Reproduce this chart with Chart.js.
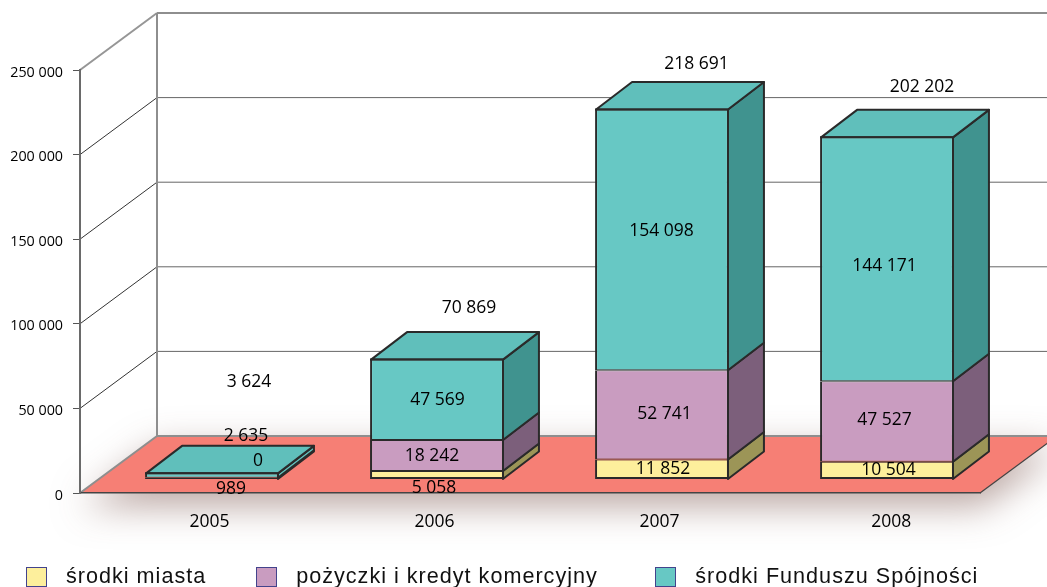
<!DOCTYPE html>
<html lang="pl">
<head>
<meta charset="utf-8">
<title>Wydatki</title>
<script src="https://cdn.jsdelivr.net/npm/chart.js@4"></script>
<style>
  html, body { margin: 0; background: #fff; width: 1047px; height: 587px; overflow: hidden; }
  #wykres { position: absolute; left: 0; top: 0; }
  #legenda { position: absolute; left: 26px; top: 567px; display: flex; gap: 50px;
    font: 21.6px "Liberation Sans", sans-serif; letter-spacing: 1px; color: #111; white-space: nowrap; }
  #legenda div { display: flex; align-items: flex-start; gap: 19.5px; line-height: 18px; }
  #legenda div:nth-child(3) { margin-left: 7.5px; }
  #legenda i { display: block; box-sizing: border-box; width: 20.5px; height: 20px; border: 1.5px solid #43438c; }
</style>
</head>
<body>
<canvas id="wykres" width="1047" height="587"></canvas>
<div id="legenda"></div>
<script>
const lata = ["2005", "2006", "2007", "2008"];
const srodkiMiasta = [989, 5058, 11852, 10504];
const pozyczki = [2635, 18242, 52741, 47527];
const funduszSpojnosci = [0, 47569, 154098, 144171];
const sumy = [3624, 70869, 218691, 202202];
const podzialkaY = [0, 50000, 100000, 150000, 200000, 250000];

// przesuniecie slupkow wzgledem przedniej krawedzi podlogi
const przesuniecieX = 19.5;
const przesuniecieY = -13.5;
// glebokosc slupka i calego wykresu
const glebokoscX = 36;
const glebokoscY = -27.5;
const scianaX = 77;
const scianaY = -57;

// korekty polozenia etykiet [dx, dy] wzgledem srodka segmentu
const korektyEtykiet = [
  [[19, 11], [-3, 13.5], [1, 0], [1.5, 0]],
  [[34, -40], [-5, 1], [2.5, -1], [-2.5, -2]],
  [[46, -12], [0.5, 0], [-0.5, -9], [-2.5, 6.5]],
];
const korektySum = [[37, -91], [32, -52], [34.5, -45.5], [35, -50]];

function formatuj(wartosc) {
  return String(wartosc).replace(/\B(?=(\d{3})+$)/g, " ");
}

const scianyBoczne = [
  ["#232323", "#9c9557", "#9c9557", "#9c9557"],
  ["#63c1bd", "#7c5f7b", "#7c5f7b", "#7c5f7b"],
  ["#63c1bd", "#40938f", "#40938f", "#40938f"],
];

const tloWykresu = {
  id: "tloWykresu",
  beforeDraw(chart) {
    const { ctx, chartArea, scales } = chart;
    const lewo = chartArea.left;
    const prawo = chartArea.right;
    const dol = chartArea.bottom;
    const koniec = chart.width;
    ctx.save();

    // podloga z cieniem
    const podloga = new Path2D();
    podloga.moveTo(lewo, dol);
    podloga.lineTo(prawo, dol);
    podloga.lineTo(prawo + scianaX, dol + scianaY);
    podloga.lineTo(lewo + scianaX, dol + scianaY);
    podloga.closePath();
    ctx.shadowColor = "rgba(120, 80, 72, 0.5)";
    ctx.shadowBlur = 36;
    ctx.shadowOffsetX = 2;
    ctx.shadowOffsetY = 13;
    ctx.fillStyle = "#f67f75";
    ctx.fill(podloga);
    ctx.shadowColor = "transparent";

    // siatka na scianie i linie ukosne
    podzialkaY.forEach((v) => {
      const y = scales.y.getPixelForValue(v);
      const skrajna = v === 250000;
      if (v !== 0) {
        ctx.strokeStyle = skrajna ? "#969696" : "#333";
        ctx.lineWidth = skrajna ? 2 : 1;
        ctx.beginPath();
        ctx.moveTo(lewo, y);
        ctx.lineTo(lewo + scianaX, y + scianaY);
        ctx.stroke();
      }
      ctx.strokeStyle = skrajna || v === 0 ? "#8e8e8e" : "#666";
      ctx.lineWidth = skrajna || v === 0 ? 2 : 1;
      ctx.beginPath();
      ctx.moveTo(lewo + scianaX, y + scianaY);
      ctx.lineTo(koniec, y + scianaY);
      ctx.stroke();
    });

    // pionowa krawedz sciany
    ctx.strokeStyle = "#8e8e8e";
    ctx.lineWidth = 2;
    ctx.beginPath();
    ctx.moveTo(lewo + scianaX, scales.y.getPixelForValue(250000) + scianaY);
    ctx.lineTo(lewo + scianaX, dol + scianaY);
    ctx.moveTo(lewo + scianaX, dol + scianaY);
    ctx.lineTo(lewo, dol);
    ctx.stroke();

    ctx.strokeStyle = "#444";
    ctx.lineWidth = 1.2;
    ctx.beginPath();
    ctx.moveTo(prawo, dol);
    ctx.lineTo(prawo + scianaX, dol + scianaY);
    ctx.stroke();
    ctx.restore();
  },
};

const slupki3d = {
  id: "slupki3d",
  beforeDatasetsDraw(chart) {
    const { ctx } = chart;
    ctx.save();
    ctx.translate(przesuniecieX, przesuniecieY);
    ctx.lineWidth = 2;
    ctx.strokeStyle = "#2a2a2a";
    ctx.lineJoin = "round";

    chart.data.datasets.forEach((zestaw, i) => {
      chart.getDatasetMeta(i).data.forEach((slupek, j) => {
        const prawo = slupek.x + slupek.width / 2;
        const lewo = slupek.x - slupek.width / 2;
        // bok
        ctx.fillStyle = scianyBoczne[i][j];
        ctx.beginPath();
        ctx.moveTo(prawo - 1, slupek.base);
        ctx.lineTo(prawo - 1 + glebokoscX, slupek.base + glebokoscY);
        ctx.lineTo(prawo - 1 + glebokoscX, slupek.y + glebokoscY);
        ctx.lineTo(prawo - 1, slupek.y);
        ctx.closePath();
        ctx.fill();
        if (slupek.base - slupek.y > 0.5) ctx.stroke();
        // gora
        if (i === chart.data.datasets.length - 1) {
          ctx.fillStyle = "#60bfbb";
          ctx.beginPath();
          ctx.moveTo(lewo + 1, slupek.y);
          ctx.lineTo(lewo + 1 + glebokoscX, slupek.y + glebokoscY);
          ctx.lineTo(prawo - 1 + glebokoscX, slupek.y + glebokoscY);
          ctx.lineTo(prawo - 1, slupek.y);
          ctx.closePath();
          ctx.fill();
          ctx.stroke();
        }
      });
    });
  },
  afterDatasetsDraw(chart) {
    const { ctx } = chart;

    // gorna krawedz przedniej sciany na wierzchu
    ctx.lineWidth = 2;
    ctx.strokeStyle = "#2a2a2a";
    const gorne = chart.getDatasetMeta(chart.data.datasets.length - 1).data;
    gorne.forEach((slupek) => {
      ctx.beginPath();
      ctx.moveTo(slupek.x - slupek.width / 2, slupek.y);
      ctx.lineTo(slupek.x + slupek.width / 2, slupek.y);
      ctx.stroke();
    });
    ctx.restore();

    // etykiety wartosci
    ctx.save();
    ctx.font = '17.5px "Open Sans", sans-serif';
    ctx.fillStyle = "#000";
    ctx.textAlign = "center";
    ctx.textBaseline = "middle";
    chart.data.datasets.forEach((zestaw, i) => {
      chart.getDatasetMeta(i).data.forEach((slupek, j) => {
        const srodek = (slupek.y + slupek.base) / 2;
        const [dx, dy] = korektyEtykiet[i][j];
        ctx.fillText(formatuj(zestaw.data[j]), slupek.x + przesuniecieX + dx, srodek + przesuniecieY + dy);
      });
    });
    gorne.forEach((slupek, j) => {
      const [dx, dy] = korektySum[j];
      ctx.fillText(formatuj(sumy[j]), slupek.x + przesuniecieX + dx, slupek.y + przesuniecieY + dy);
    });
    ctx.restore();
  },
};

const wykres = new Chart(document.getElementById("wykres"), {
  type: "bar",
  data: {
    labels: lata,
    datasets: [
      {
        label: "środki miasta",
        data: srodkiMiasta,
        legendColor: "#fdef9c",
        backgroundColor: ["#232323", "#fdef9c", "#fdef9c", "#fdef9c"],
        borderWidth: { top: 1, bottom: 2, left: 2, right: 2 },
      },
      {
        label: "pożyczki i kredyt komercyjny",
        data: pozyczki,
        legendColor: "#c99cc0",
        backgroundColor: ["#67c8c4", "#c99cc0", "#c99cc0", "#c99cc0"],
        borderWidth: { top: 1, bottom: 1, left: 2, right: 2 },
      },
      {
        label: "środki Funduszu Spójności",
        data: funduszSpojnosci,
        legendColor: "#67c8c4",
        backgroundColor: "#67c8c4",
        borderWidth: { top: 1, bottom: 1, left: 2, right: 2 },
      },
    ].map((zestaw) => ({
      ...zestaw,
      borderColor: "#2a2a2a",
      borderSkipped: false,
      categoryPercentage: 1,
      barPercentage: 0.595,
      clip: false,
    })),
  },
  options: {
    responsive: false,
    animation: false,
    events: [],
    layout: { padding: { top: 70, right: 67, bottom: 54, left: 0 } },
    plugins: { legend: { display: false }, tooltip: { enabled: false } },
    scales: {
      x: {
        stacked: true,
        afterFit(skala) { skala.height = 40; },
        grid: { display: false },
        border: { color: "#444", width: 1.5 },
        ticks: {
          padding: 11,
          labelOffset: 17,
          maxRotation: 0,
          color: "#000",
          font: { family: "Open Sans", size: 17.5 },
          // ostatnia etykieta lezy w oryginale nieco dalej w prawo
          callback(wartosc, i) {
            return (i === 3 ? "\u00a0\u00a0\u00a0" : "") + this.getLabelForValue(wartosc);
          },
        },
      },
      y: {
        stacked: true,
        min: 0,
        max: 250000,
        afterFit(skala) { skala.width = 80; },
        grid: { drawOnChartArea: false, tickLength: 7, color: "#555" },
        border: { color: "#6a6a6a", width: 2 },
        afterBuildTicks(skala) { skala.ticks = podzialkaY.map((value) => ({ value })); },
        ticks: {
          padding: 10,
          labelOffset: 2.5,
          color: "#000",
          font: { family: "Open Sans", size: 14.3 },
          callback: (wartosc) => formatuj(wartosc),
        },
      },
    },
  },
  plugins: [tloWykresu, slupki3d],
});

// legenda poza canvasem, bo odstepy sa inne niz w legendzie Chart.js
document.getElementById("legenda").innerHTML = wykres.data.datasets
  .map((zestaw) => `<div><i style="background:${zestaw.legendColor}"></i><span>${zestaw.label}</span></div>`)
  .join("");
</script>
</body>
</html>
